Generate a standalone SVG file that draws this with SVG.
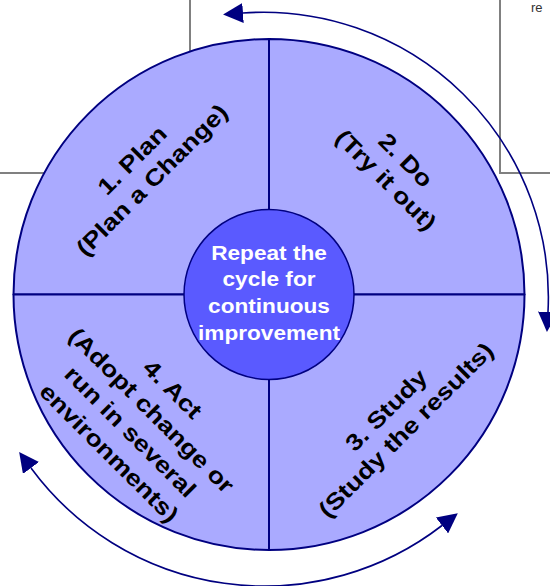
<svg xmlns="http://www.w3.org/2000/svg" width="550" height="586" viewBox="0 0 550 586">
  <defs>
    <marker id="ah" viewBox="0 0 20 20" refX="0" refY="10" markerWidth="20" markerHeight="20" markerUnits="userSpaceOnUse" orient="auto-start-reverse">
      <path d="M0,0 L20,10 L0,20 Z" fill="#000080"/>
    </marker>
    <style>
      .grid { stroke: #808080; stroke-width: 2; fill: none; }
      .sector { fill: #aaaaff; stroke: #000080; stroke-width: 2; stroke-linejoin: round; }
      .hub { fill: #5a5aff; stroke: #000080; stroke-width: 1.5; }
      .arc { fill: none; stroke: #000080; stroke-width: 1.6; marker-start: url(#ah); marker-end: url(#ah); }
      .lbl { font-family: "Liberation Sans", Arial, sans-serif; font-weight: bold; font-size: 23px; fill: #000; text-anchor: middle; }
      .hubtxt { font-family: "Liberation Sans", Arial, sans-serif; font-weight: bold; font-size: 19.5px; fill: #fff; text-anchor: middle; }
    </style>
  </defs>

  <rect width="550" height="586" fill="#fff"/>

  <!-- table rules behind the wheel -->
  <g id="grid">
    <line class="grid" x1="190" y1="0" x2="190" y2="173"/>
    <line class="grid" x1="0" y1="173" x2="190" y2="173"/>
    <line class="grid" x1="500" y1="0" x2="500" y2="174"/>
    <line class="grid" x1="499" y1="173" x2="550" y2="173"/>
    <text x="531" y="12" font-family="Liberation Sans, Arial, sans-serif" font-size="13" fill="#333">re</text>
  </g>

  <!-- quadrants -->
  <g id="plan">
    <path class="sector" d="M269,294.5 L269,39 A255.5,255.5 0 0 0 13.5,294.5 Z"/>
    <g transform="translate(142,170) rotate(-45) scale(1.17,1)">
      <text class="lbl" x="0" y="-6">1. Plan</text>
      <text class="lbl" x="0" y="22">(Plan a Change)</text>
    </g>
  </g>
  <g id="do">
    <path class="sector" d="M269,294.5 L269,39 A255.5,255.5 0 0 1 524.5,294.5 Z"/>
    <g transform="translate(396,170) rotate(45) scale(1.17,1)">
      <text class="lbl" x="0" y="-6">2. Do</text>
      <text class="lbl" x="0" y="22">(Try it out)</text>
    </g>
  </g>
  <g id="study">
    <path class="sector" d="M269,294.5 L524.5,294.5 A255.5,255.5 0 0 1 269,550 Z"/>
    <g transform="translate(396,420) rotate(-45) scale(1.17,1)">
      <text class="lbl" x="0" y="-6">3. Study</text>
      <text class="lbl" x="0" y="22">(Study the results)</text>
    </g>
  </g>
  <g id="act">
    <path class="sector" d="M269,294.5 L269,550 A255.5,255.5 0 0 1 13.5,294.5 Z"/>
    <g transform="translate(141,421) rotate(45) scale(1.17,1)">
      <text class="lbl" x="0" y="-37">4. Act</text>
      <text class="lbl" x="0" y="-7">(Adopt change or</text>
      <text class="lbl" x="0" y="23">run in several</text>
      <text class="lbl" x="0" y="53">environments)</text>
    </g>
  </g>

  <!-- centre hub -->
  <g id="hub">
    <circle class="hub" cx="269" cy="294.5" r="85"/>
    <g transform="translate(269,0) scale(1.16,1)">
      <text class="hubtxt" x="0" y="260">Repeat the</text>
      <text class="hubtxt" x="0" y="286.5">cycle for</text>
      <text class="hubtxt" x="0" y="313">continuous</text>
      <text class="hubtxt" x="0" y="340">improvement</text>
    </g>
  </g>

  <!-- cycle arrows -->
  <g id="connectors">
    <path class="arc" d="M243,13 A285,285 0 0 1 548,312"/>
    <path class="arc" d="M31,468 A290,290 0 0 0 442,525.5"/>
  </g>
</svg>
